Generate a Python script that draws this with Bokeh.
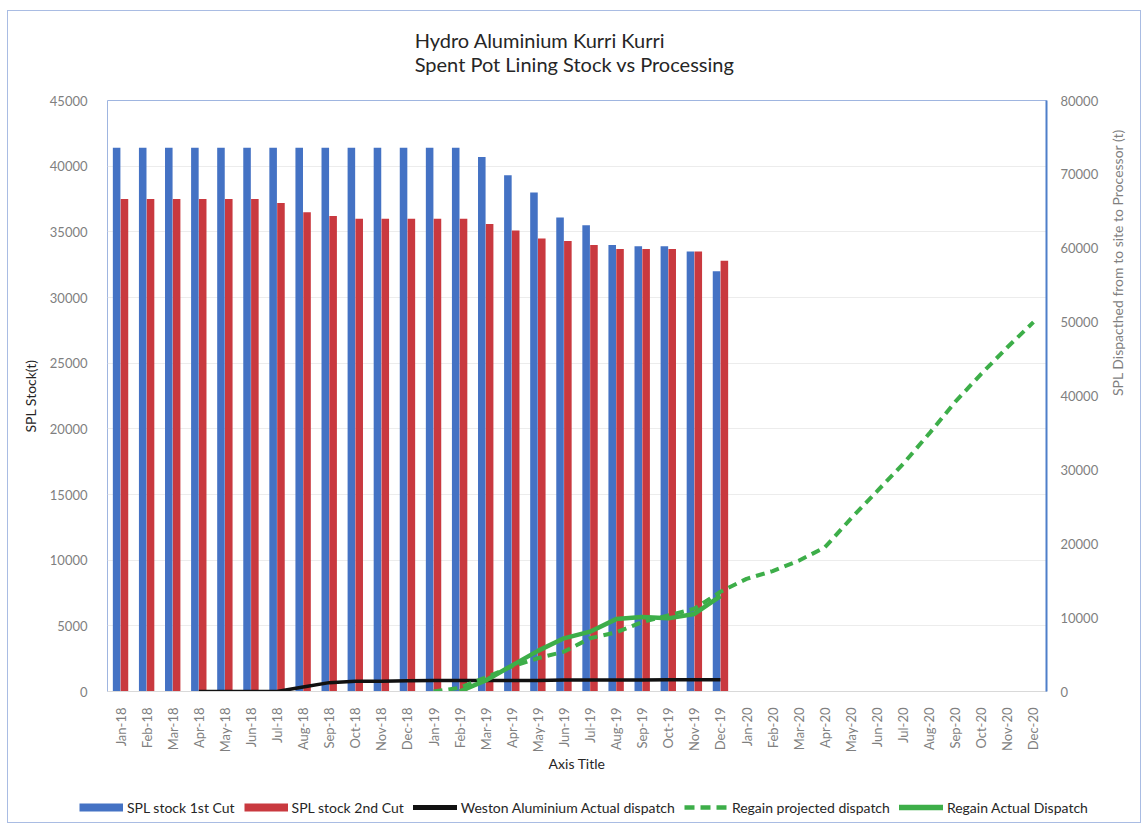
import math
from bokeh.plotting import figure
from bokeh.layouts import column
from bokeh.models import (Range1d, LinearAxis, FactorRange, Legend, LegendItem,
                          FixedTicker, Title, ColumnDataSource)
from bokeh.transform import dodge
from bokeh.embed import file_html
from bokeh.resources import INLINE

months = ["Jan-18", "Feb-18", "Mar-18", "Apr-18", "May-18", "Jun-18", "Jul-18", "Aug-18",
          "Sep-18", "Oct-18", "Nov-18", "Dec-18", "Jan-19", "Feb-19", "Mar-19", "Apr-19",
          "May-19", "Jun-19", "Jul-19", "Aug-19", "Sep-19", "Oct-19", "Nov-19", "Dec-19",
          "Jan-20", "Feb-20", "Mar-20", "Apr-20", "May-20", "Jun-20", "Jul-20", "Aug-20",
          "Sep-20", "Oct-20", "Nov-20", "Dec-20"]

stock_months = months[0:24]
stock_1st = [41400, 41400, 41400, 41400, 41400, 41400, 41400, 41400, 41400, 41400, 41400, 41400,
             41400, 41400, 40700, 39300, 38000, 36100, 35500, 34000, 33900, 33900, 33500, 32000]
stock_2nd = [37500, 37500, 37500, 37500, 37500, 37500, 37200, 36500, 36200, 36000, 36000, 36000,
             36000, 36000, 35600, 35100, 34500, 34300, 34000, 33700, 33700, 33700, 33500, 32800]

weston_months = months[3:24]
weston = [0, 0, 0, 0, 600, 1200, 1400, 1400, 1450, 1500, 1500, 1500, 1500, 1500, 1550, 1550,
          1550, 1550, 1600, 1600, 1600]

proj_months = months[12:36]
proj = [0, 500, 1900, 3400, 4500, 5400, 7200, 8000, 9400, 10300, 11200, 13500,
        15250, 16300, 17700, 19500, 23400, 27100, 30800, 34900, 39200, 43000, 46600, 50000]

actual_months = months[13:24]
actual = [0, 1500, 3500, 5500, 7200, 8100, 9800, 10100, 9900, 10500, 12900]

series_names = ["SPL stock 1st Cut", "SPL stock 2nd Cut", "Weston Aluminium Actual dispatch",
                "Regain projected dispatch", "Regain Actual Dispatch"]
title_text = "Hydro Aluminium Kurri Kurri\nSpent Pot Lining Stock vs Processing"

FONT = "Lato"
BLUE = "#4472C4"
RED = "#C9393F"
GREEN = "#3DAE49"
BLACK = "#111111"
NAN = float("nan")


def no_align(fig):
    if "frame_align" in fig.properties():
        fig.frame_align = False


# title strip
p0 = figure(width=1132, height=79, x_range=Range1d(0, 1), y_range=Range1d(0, 1),
            min_border=0, x_axis_type=None, y_axis_type=None,
            output_backend="svg", toolbar_location=None)
p0.outline_line_color = None
p0.title = Title(text=title_text, align="center", text_font=FONT, text_font_size="20px",
                 text_font_style="normal", text_color="#262626", standoff=30)
no_align(p0)

# main chart
p = figure(x_range=FactorRange(*months), y_range=Range1d(0, 45000),
           frame_width=939, frame_height=591,
           min_border_left=99, min_border_right=94, min_border_top=10, min_border_bottom=95,
           output_backend="svg", toolbar_location=None)
no_align(p)

p.extra_y_ranges = {"right": Range1d(0, 80000)}

src = ColumnDataSource(dict(m=stock_months, s1=stock_1st, s2=stock_2nd))
p.vbar(x=dodge("m", -0.15, range=p.x_range), top="s1", width=0.29, source=src,
       fill_color=BLUE, line_color=None)
p.vbar(x=dodge("m", 0.15, range=p.x_range), top="s2", width=0.29, source=src,
       fill_color=RED, line_color=None)

p.line(x=weston_months, y=weston, y_range_name="right", line_color=BLACK, line_width=3.5)
p.line(x=proj_months, y=proj, y_range_name="right", line_color=GREEN, line_width=4,
       line_dash="9 6")
p.line(x=actual_months, y=actual, y_range_name="right", line_color=GREEN, line_width=4.5)

p.xgrid.grid_line_color = None
p.ygrid.grid_line_color = "#ececec"
p.outline_line_color = "#9fb5e0"

for ax in [p.yaxis[0], p.xaxis[0]]:
    ax.major_tick_line_color = None
    ax.minor_tick_line_color = None
    ax.major_label_text_font = FONT
    ax.major_label_text_font_size = "13px"
    ax.major_label_text_color = "#7f7f7f"
    ax.axis_label_text_font = FONT
    ax.axis_label_text_font_size = "14px"
    ax.axis_label_text_font_style = "normal"
    ax.axis_label_text_color = "#262626"

p.yaxis.ticker = FixedTicker(ticks=list(range(0, 45001, 5000)))
p.yaxis.axis_label = "SPL Stock(t)"
p.yaxis.axis_line_color = None
p.yaxis.major_label_standoff = 14
p.yaxis.axis_label_standoff = 8

p.xaxis.axis_label = "Axis Title"
p.xaxis.axis_line_color = "#d9d9d9"
p.xaxis.major_label_orientation = math.pi / 2
p.xaxis.major_label_standoff = 10
p.xaxis.axis_label_standoff = 0

rax = LinearAxis(y_range_name="right", ticker=FixedTicker(ticks=list(range(0, 80001, 10000))))
rax.axis_label = "SPL Dispacthed from to site to Processor (t)"
rax.major_tick_line_color = None
rax.minor_tick_line_color = None
rax.axis_line_color = "#4f7fc9"
rax.axis_line_width = 2
rax.major_label_text_font = FONT
rax.major_label_text_font_size = "13px"
rax.major_label_text_color = "#7f7f7f"
rax.major_label_standoff = 8
rax.axis_label_text_font = FONT
rax.axis_label_text_font_size = "14px"
rax.axis_label_text_font_style = "normal"
rax.axis_label_text_color = "#7f7f7f"
rax.axis_label_standoff = 16
if "axis_label_orientation" in rax.properties():
    rax.axis_label_orientation = math.pi / 2
p.add_layout(rax, "right")

# legend strip below the chart
p2 = figure(width=1132, height=36, x_range=Range1d(0, 1), y_range=Range1d(0, 1),
            min_border=0, x_axis_type=None, y_axis_type=None,
            output_backend="svg", toolbar_location=None)
p2.outline_line_color = None
no_align(p2)
k1 = p2.line(x=[NAN], y=[NAN], line_color=BLUE, line_width=8, line_cap="butt")
k2 = p2.line(x=[NAN], y=[NAN], line_color=RED, line_width=8, line_cap="butt")
k3 = p2.line(x=[NAN], y=[NAN], line_color=BLACK, line_width=5, line_cap="round")
k4 = p2.line(x=[NAN], y=[NAN], line_color=GREEN, line_width=4.5, line_dash="10 6")
k5 = p2.line(x=[NAN], y=[NAN], line_color=GREEN, line_width=5.5, line_cap="round")

legend = Legend(items=[LegendItem(label=n, renderers=[r])
                       for n, r in zip(series_names, [k1, k2, k3, k4, k5])],
                orientation="horizontal", location=(71, 6), glyph_width=44, glyph_height=18,
                label_height=18, label_text_font=FONT, label_text_font_size="14px",
                label_text_color="#262626", label_standoff=4, spacing=9,
                border_line_color=None, background_fill_alpha=0, padding=0, margin=0)
p2.add_layout(legend, "center")

lay = column(p0, p, p2, spacing=0)
lay.styles = {"margin-left": "7px", "margin-top": "10px", "border": "1px solid #a9bce3"}

open("out.html", "w").write(file_html(lay, INLINE))
